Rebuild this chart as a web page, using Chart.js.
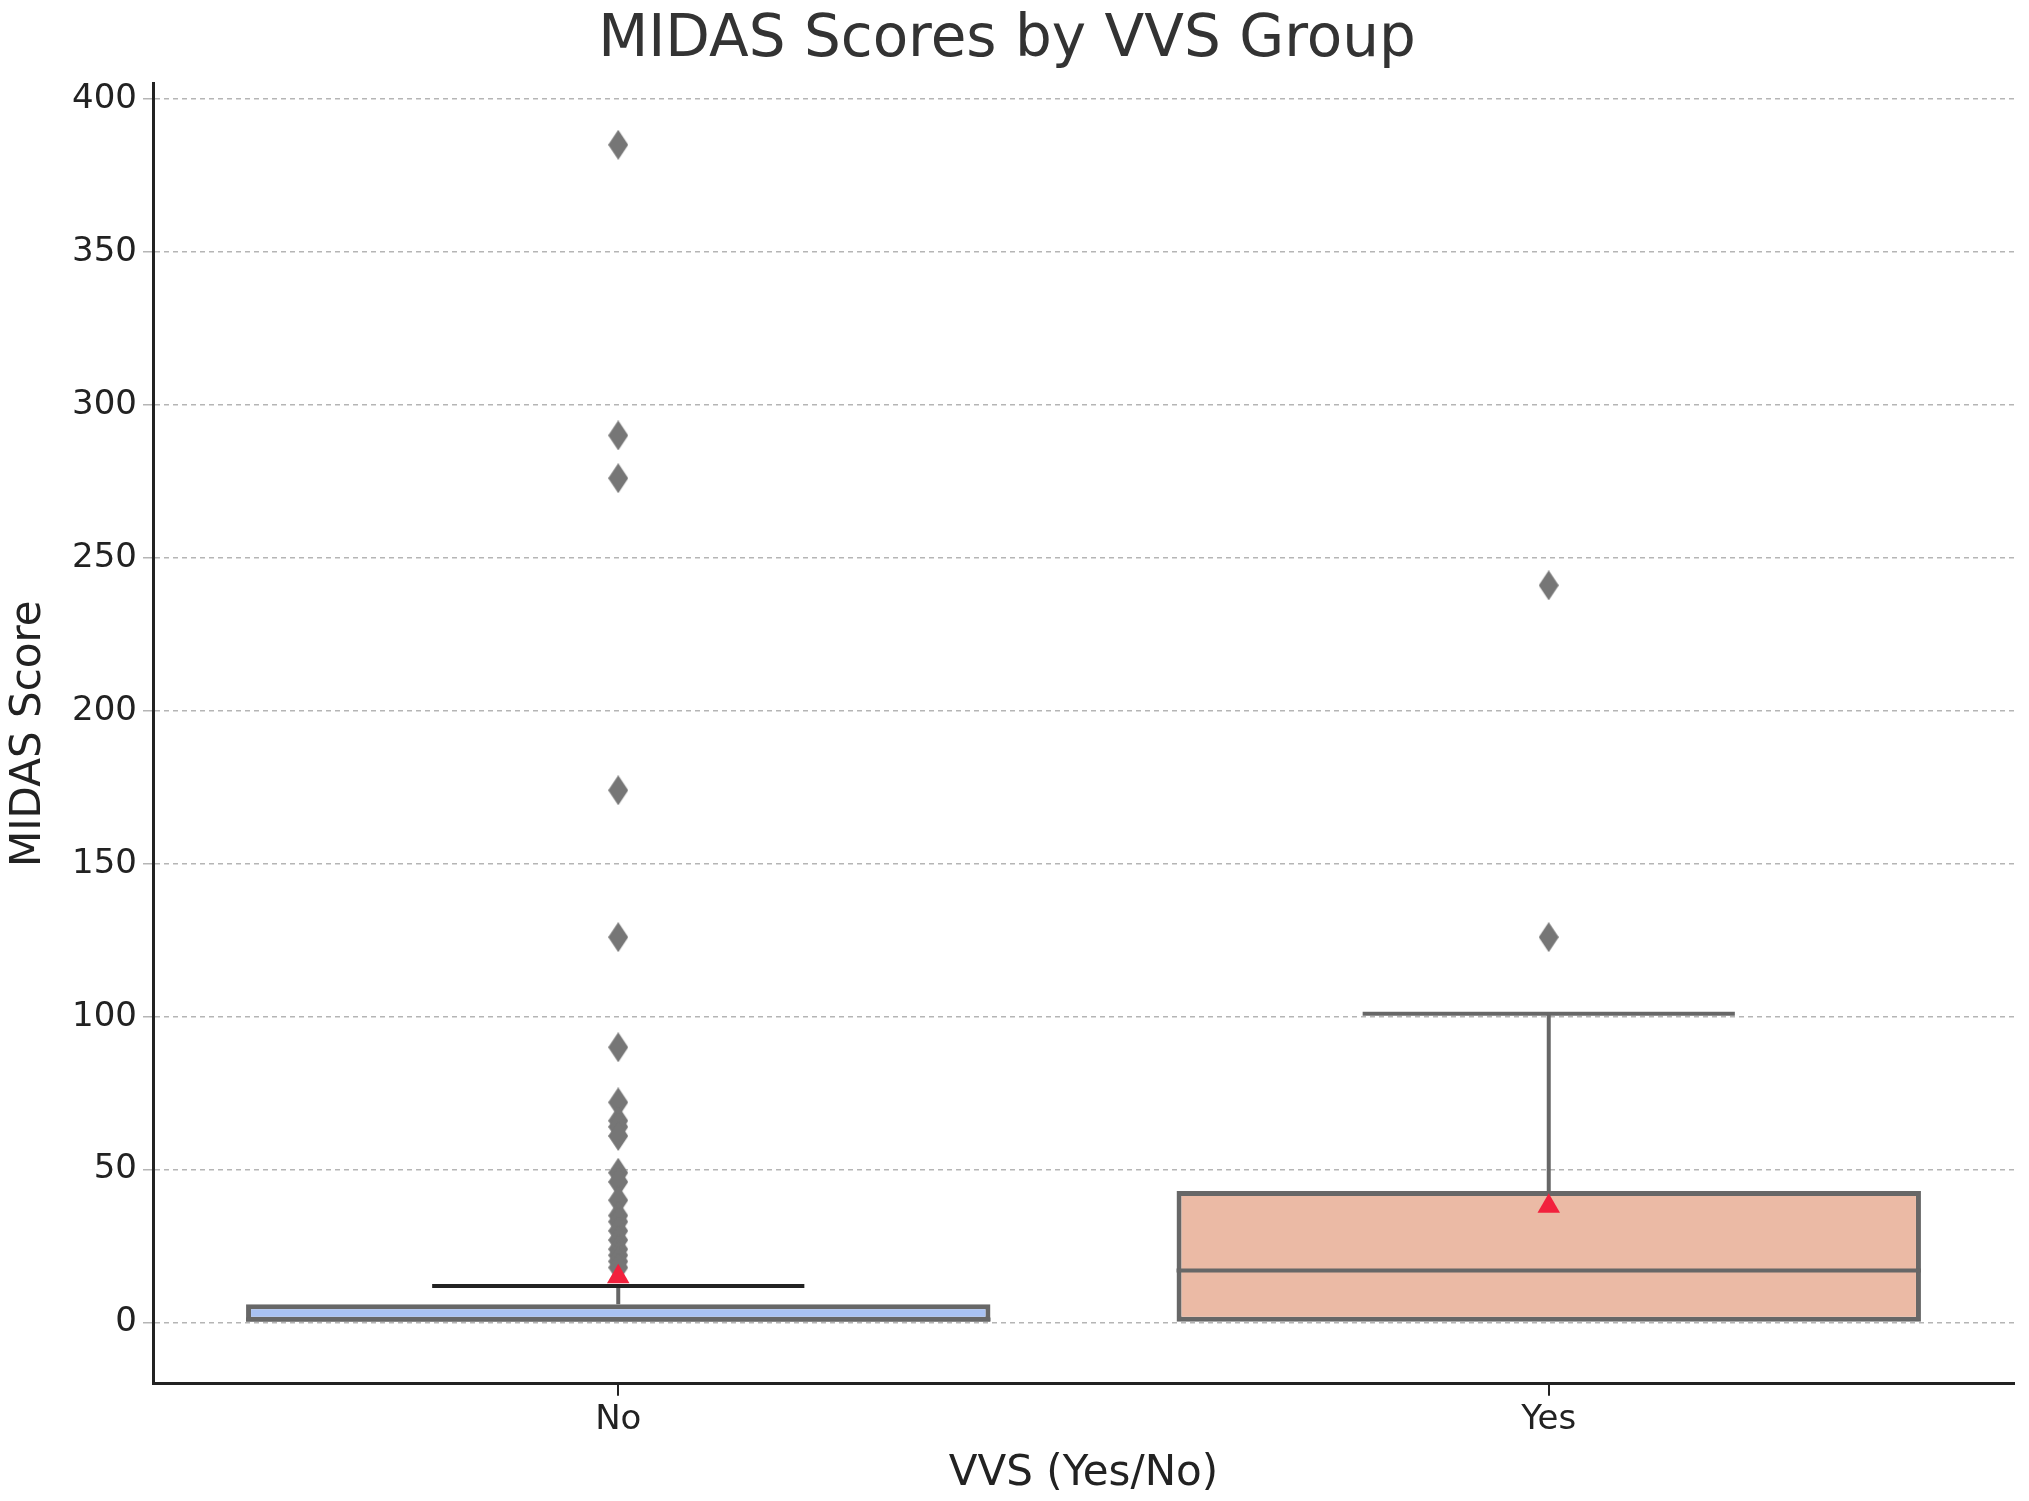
<!DOCTYPE html>
<html>
<head>
<meta charset="utf-8">
<script src="https://cdn.jsdelivr.net/npm/chart.js@4"></script>
<style>
  html, body { margin: 0; padding: 0; background: #fff; }
  canvas { display: block; }
</style>
</head>
<body>
<canvas id="chart" width="2029" height="1501"></canvas>
<script>
const groups = ["No", "Yes"];
const q1 = [0, 0];
const q3 = [6, 43];
const medians = [1, 17];
const whiskerLow = [0, 0];
const whiskerHigh = [12, 101];
const means = [15, 38];
const outliersNo = [385, 290, 276, 174, 126, 90, 72, 66, 64, 61, 49, 46, 40, 35, 33, 30, 27, 24, 22, 20, 18];
const outliersYes = [241, 126];
const yTicks = [0, 50, 100, 150, 200, 250, 300, 350, 400];

const boxColors = ["#a9c2f3", "#ebbaa5"];
const edge = "#676767";

// tall diamond marker like matplotlib's "d"
const diamond = document.createElement("canvas");
diamond.width = 20; diamond.height = 30;
(function () {
  const c = diamond.getContext("2d");
  c.fillStyle = "#767676";
  c.beginPath();
  c.moveTo(10, 0); c.lineTo(20, 15); c.lineTo(10, 30); c.lineTo(0, 15);
  c.closePath();
  c.fill();
})();

// whiskers + medians drawn from the scales
const boxExtras = {
  id: "boxExtras",
  afterDatasetsDraw(chart) {
    const ctx = chart.ctx;
    const xs = chart.scales.x, ys = chart.scales.y;
    const catW = xs.width / groups.length;
    ctx.save();
    ctx.lineWidth = 4;
    groups.forEach((g, i) => {
      const cx = xs.getPixelForValue(i);
      const boxHalf = catW * 0.4;
      const capHalf = catW * 0.2;
      ctx.strokeStyle = edge;
      ctx.beginPath();
      ctx.moveTo(cx - boxHalf, ys.getPixelForValue(medians[i]));
      ctx.lineTo(cx + boxHalf, ys.getPixelForValue(medians[i]));
      ctx.stroke();
      ctx.beginPath();
      ctx.moveTo(cx, ys.getPixelForValue(q3[i]));
      ctx.lineTo(cx, ys.getPixelForValue(whiskerHigh[i]));
      ctx.stroke();
      ctx.strokeStyle = i === 0 ? "#222" : edge;
      ctx.beginPath();
      ctx.moveTo(cx - capHalf, ys.getPixelForValue(whiskerHigh[i]));
      ctx.lineTo(cx + capHalf, ys.getPixelForValue(whiskerHigh[i]));
      ctx.stroke();
    });
    ctx.restore();
  }
};

new Chart(document.getElementById("chart"), {
  type: "bar",
  data: {
    labels: groups,
    datasets: [
      {
        label: "box",
        data: groups.map((g, i) => [q1[i], q3[i]]),
        backgroundColor: boxColors,
        borderColor: edge,
        borderWidth: 5,
        borderSkipped: false,
        barPercentage: 0.8,
        categoryPercentage: 1.0,
        order: 3
      },
      {
        type: "scatter",
        label: "outliers",
        data: outliersNo.map(v => ({ x: "No", y: v })).concat(outliersYes.map(v => ({ x: "Yes", y: v }))),
        pointStyle: diamond,
        pointRadius: 12,
        order: 1
      },
      {
        type: "scatter",
        label: "mean",
        data: groups.map((g, i) => ({ x: g, y: means[i] })),
        pointStyle: "triangle",
        pointRadius: 13,
        backgroundColor: "#f2213d",
        borderColor: "#f2213d",
        borderWidth: 0,
        order: 0
      }
    ]
  },
  options: {
    responsive: false,
    animation: false,
    layout: { padding: { left: 0, right: 15, top: 0, bottom: 0 } },
    plugins: {
      legend: { display: false },
      tooltip: { enabled: false },
      title: {
        display: true,
        text: "MIDAS Scores by VVS Group",
        color: "#333",
        font: { family: "DejaVu Sans", size: 58, weight: "normal" },
        padding: { top: 6, bottom: 8 }
      }
    },
    scales: {
      x: {
        type: "category",
        offset: true,
        grid: { offset: false, drawOnChartArea: false, drawTicks: true, color: "#222", tickLength: 12, lineWidth: 2 },
        border: { display: true, color: "#222", width: 3 },
        ticks: { color: "#222", font: { family: "DejaVu Sans", size: 34 }, padding: 4 },
        title: { display: true, text: "VVS (Yes/No)", color: "#222", font: { family: "DejaVu Sans", size: 42 }, padding: { top: 4, bottom: 2 } }
      },
      y: {
        min: -20,
        max: 405,
        afterBuildTicks: s => { s.ticks = yTicks.map(v => ({ value: v })); },
        afterFit: s => { s.width = 153; },
        grid: { color: "#b5b5b5", lineWidth: 1.5, tickLength: 10 },
        border: { display: true, color: "#222", width: 3, dash: [5, 4] },
        ticks: { color: "#222", font: { family: "DejaVu Sans", size: 34 }, padding: 6 },
        title: { display: true, text: "MIDAS Score", color: "#222", font: { family: "DejaVu Sans", size: 42 }, padding: { bottom: 2 } }
      }
    }
  },
  plugins: [boxExtras]
});
</script>
</body>
</html>
